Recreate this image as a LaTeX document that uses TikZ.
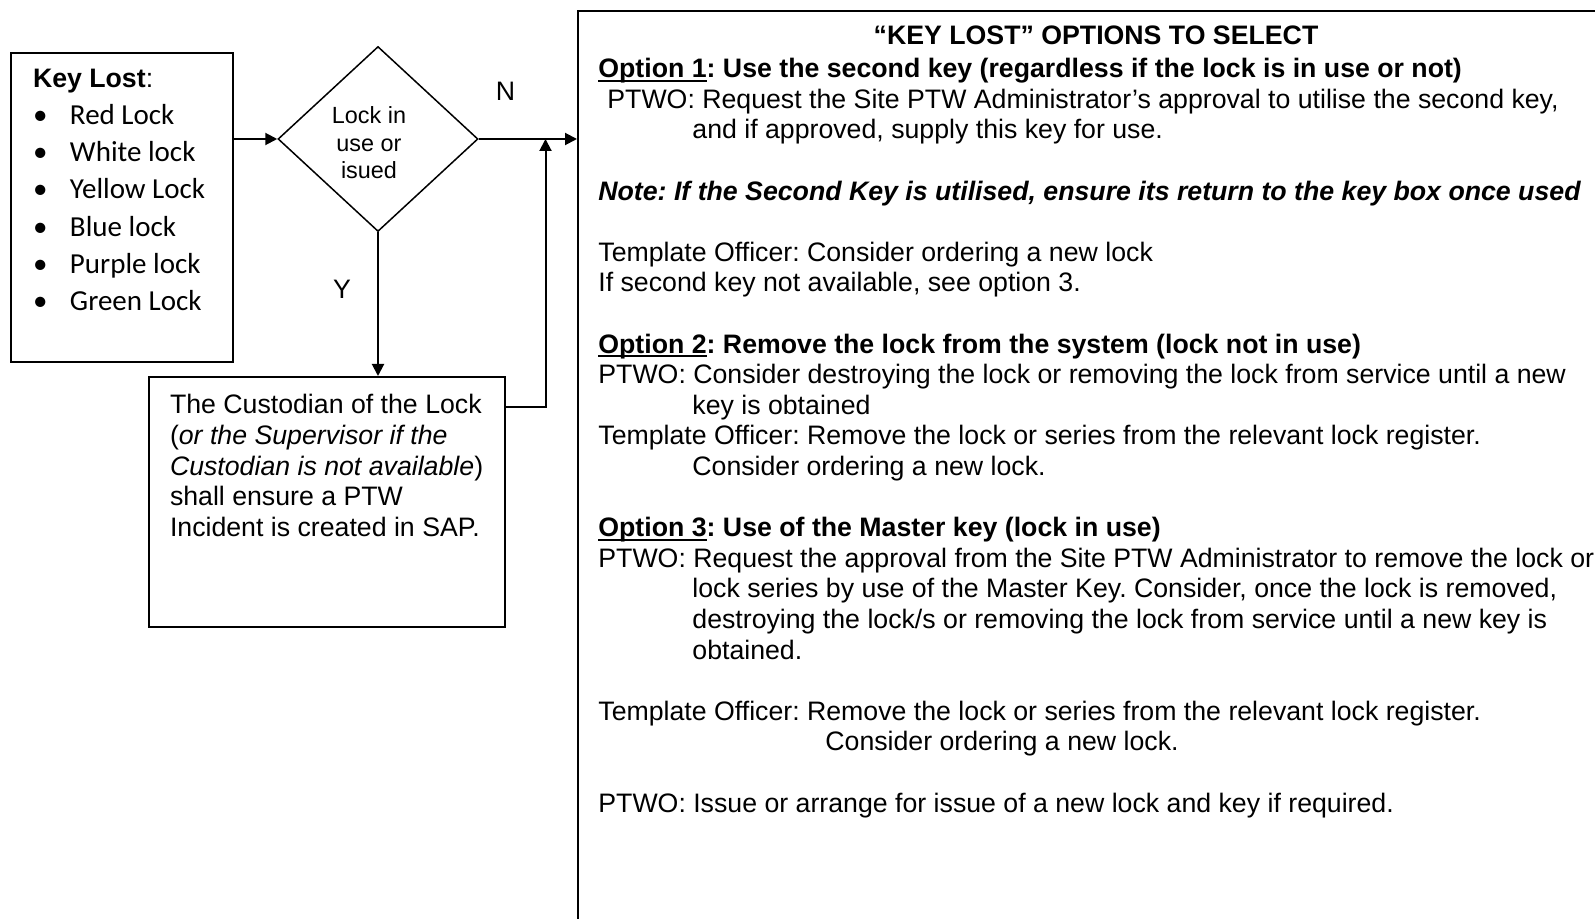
\documentclass[tikz,border=0pt]{standalone}
\usepackage{fontspec}
\setmainfont{Liberation Sans}
\newfontfamily\calibri{Carlito}
\usetikzlibrary{shapes.geometric,arrows.meta}

\tikzset{
  box/.style={draw, line width=1pt, inner sep=0pt},
  link/.style={line width=1pt, -{Triangle[length=6pt,width=6pt]}},
}
\newcommand{\txt}{\fontsize{13.35}{15.3}\selectfont\frenchspacing}
\newcommand{\gap}{\hspace*{47pt}}
\newcommand{\optline}[1]{\setbox0=\hbox{#1}\rlap{\rule[-2pt]{\wd0}{0.9pt}}\box0}

\begin{document}
\begin{tikzpicture}[x=0.5pt,y=-0.5pt]
\useasboundingbox (0,0) rectangle (1595,919);

% list of locks
\node[box, anchor=north west, inner xsep=11pt, inner ysep=8pt] (lost) at (10,52)
  {\parbox[c][138.5pt][t]{89pt}{{\txt\textbf{Key Lost}:}\\
   \calibri\fontsize{14.5}{18.6}\selectfont
   \makebox[18.5pt][l]{\textbullet}Red Lock\\
   \makebox[18.5pt][l]{\textbullet}White lock\\
   \makebox[18.5pt][l]{\textbullet}Yellow Lock\\
   \makebox[18.5pt][l]{\textbullet}Blue lock\\
   \makebox[18.5pt][l]{\textbullet}Purple lock\\
   \makebox[18.5pt][l]{\textbullet}Green Lock}};

\node[draw, diamond, line width=0.75pt, minimum width=100pt, minimum height=92.5pt,
  inner sep=0pt] (inuse) at (378,139) {};
\node[align=center, font=\fontsize{11.7}{13.75}\selectfont] (inusetext) at (369,143)
  {Lock in\\use or\\isued};

\node[box, anchor=north west, inner xsep=10.5pt, inner ysep=8.75pt] (custodian) at (148,376)
  {\parbox[c][107.5pt][t]{157pt}{\txt The Custodian of the Lock\\
   (\textit{or the Supervisor if the}\\
   \textit{Custodian~is~not~available})\\
   shall ensure a PTW\\
   Incident is created in SAP.}};

% options panel, runs off the page
\node[box, anchor=north west, minimum width=520pt, minimum height=470pt] (options) at (577,10) {};

\node[font=\txt] (no) at (505.5,91.5) {N};
\node[font=\txt] (yes) at (342,289) {Y};

\draw[link] (lost.east |- inuse.west) -- (inuse.west);
\draw[link] (inuse.east) -- (options.west |- inuse.east);
\draw[link] (inuse.south) -- (inuse.south |- custodian.north);
\coordinate (join) at (545.5,139);
\coordinate (back) at ([yshift=-15.3pt]custodian.north east);
\draw[link] (back) -| (join);

\node[font=\txt\bfseries] (title) at (1096,35.6) {“KEY LOST” OPTIONS TO SELECT};

\node[anchor=north west, inner sep=0pt, align=left, font=\txt] (steps) at (598,58) {%
\textbf{\optline{Option 1}: Use the second key (regardless if the lock is in use or not)}\\
\hspace*{4.5pt}PTWO: Request the Site PTW Administrator’s approval to utilise the second key,\\
\gap and if approved, supply this key for use.\\[15.3pt]
\textbf{\textit{Note: If the Second Key is utilised, ensure its return to the key box once used}}\\[15.3pt]
Template Officer: Consider ordering a new lock\\
If second key not available, see option 3.\\[15.3pt]
\textbf{\optline{Option 2}: Remove the lock from the system (lock not in use)}\\
PTWO: Consider destroying the lock or removing the lock from service until a new\\
\gap key is obtained\\
Template Officer: Remove the lock or series from the relevant lock register.\\
\gap Consider ordering a new lock.\\[15.3pt]
\textbf{\optline{Option 3}: Use of the Master key (lock in use)}\\
PTWO: Request the approval from the Site PTW Administrator to remove the lock or\\
\gap lock series by use of the Master Key. Consider, once the lock is removed,\\
\gap destroying the lock/s or removing the lock from service until a new key is\\
\gap obtained.\\[15.3pt]
Template Officer: Remove the lock or series from the relevant lock register.\\
\hspace*{113.5pt}Consider ordering a new lock.\\[15.3pt]
PTWO: Issue or arrange for issue of a new lock and key if required.};

\end{tikzpicture}
\end{document}
